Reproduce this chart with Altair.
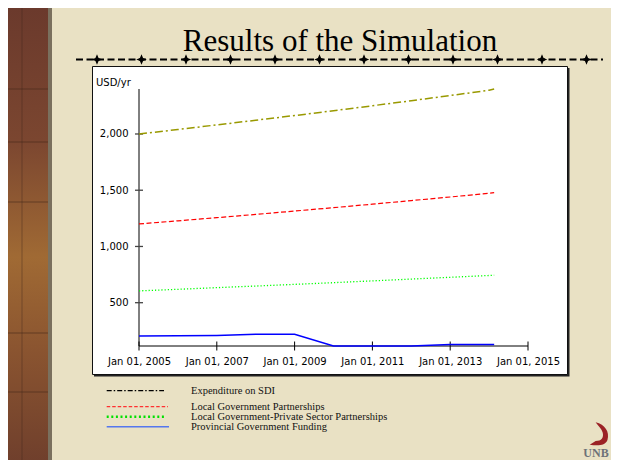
import altair as alt
import pandas as pd

# ---------------- data ----------------
years = [2005, 2006, 2007, 2008, 2009, 2010, 2011, 2012, 2013, 2014, 2014.13]
sdi_expenditure = [2000, 2040, 2081, 2122, 2164, 2207, 2251, 2296, 2342, 2389, 2400]
local_gov_partnerships = [1200, 1228, 1256, 1285, 1315, 1345, 1376, 1408, 1440, 1473, 1478]
local_gov_private_partnerships = [605, 619, 634, 648, 663, 678, 694, 710, 726, 742, 744]
provincial_funding = [204, 206, 209, 219, 219, 115, 115, 115, 128, 128, 128]

series_names = [
    "Expenditure on SDI",
    "Local Government Partnerships",
    "Local Government-Private Sector Partnerships",
    "Provincial Government Funding",
]
x_tick_years = [2005, 2007, 2009, 2011, 2013, 2015]
y_tick_values = [500, 1000, 1500, 2000]
title_text = "Results of the Simulation"
unit_label = "USD/yr"
logo_text = "UNB"

rows = []
for name, vals in zip(series_names, [sdi_expenditure, local_gov_partnerships,
                                     local_gov_private_partnerships, provincial_funding]):
    for yr, v in zip(years, vals):
        rows.append({"year": yr, "value": v, "series": name})
df = pd.DataFrame(rows)

# ---------------- layout helpers ----------------
W, H = 389, 257
OX, OY = 139, 89          # plot origin in page pixels
PAD = {"left": OX - 8, "top": OY - 8, "right": 603 - (OX - 8) - W, "bottom": 452 - (OY - 8) - H}


def px(X):
    return X - OX


def py(Y):
    return Y - OY


one = pd.DataFrame({"k": [0]})

X_SCALE = alt.Scale(domain=[2005, 2015], nice=False, zero=False)
Y_SCALE = alt.Scale(domain=[115, 2400], nice=False, zero=False)
AX_COMMON = dict(domain=False, ticks=False, grid=False, labelFont="DejaVu Sans",
                 labelFontSize=10, labelColor="black", title=None, zindex=1,
                 labelOverlap=False)
X_AXIS = alt.Axis(values=x_tick_years, labelExpr="'Jan 01, ' + datum.value",
                  labelPadding=10, labelFlush=False, **AX_COMMON)
Y_AXIS = alt.Axis(values=y_tick_values, format=",d", labelPadding=11, **AX_COMMON)

layers = []

# slide decoration: left textured strip
layers.append(alt.Chart(one).mark_rect(color=alt.Gradient(
    gradient="linear", x1=0, x2=0, y1=0, y2=1,
    stops=[alt.GradientStop(color="#6A392C", offset=0),
           alt.GradientStop(color="#7B4630", offset=0.3),
           alt.GradientStop(color="#A06A34", offset=0.55),
           alt.GradientStop(color="#8A5430", offset=0.75),
           alt.GradientStop(color="#6E3E2C", offset=1)])).encode(
    x=alt.value(px(0)), x2=alt.value(px(48)), y=alt.value(py(0)), y2=alt.value(py(468))))
for ly in [89, 142, 202, 333, 392]:
    layers.append(alt.Chart(one).mark_rule(color="#3E2418", opacity=0.55, strokeWidth=1).encode(
        x=alt.value(px(0)), x2=alt.value(px(48)), y=alt.value(py(ly))))
layers.append(alt.Chart(one).mark_rule(color="#3E2418", opacity=0.4, strokeWidth=1).encode(
    x=alt.value(px(22)), y=alt.value(py(0)), y2=alt.value(py(468))))
layers.append(alt.Chart(one).mark_rect(color="#7A705E").encode(
    x=alt.value(px(48)), x2=alt.value(px(52)), y=alt.value(py(0)), y2=alt.value(py(468))))

# title
layers.append(alt.Chart(one).mark_text(font="Liberation Serif", fontSize=31, color="black",
                                       align="center", baseline="alphabetic").encode(
    x=alt.value(px(340)), y=alt.value(py(51)), text=alt.value(title_text)))

# dashed rule with star crosses
layers.append(alt.Chart(one).mark_rule(color="black", strokeWidth=2.2, strokeDash=[7, 3.5]).encode(
    x=alt.value(px(76)), x2=alt.value(px(603)), y=alt.value(py(59.5))))
STAR = "M0,-1L0.3,-0.3L1,0L0.3,0.3L0,1L-0.3,0.3L-1,0L-0.3,-0.3Z"
for cx in [97, 141.5, 186, 230.5, 275, 319.5, 364, 408.5, 453, 497.5, 542, 586.5]:
    layers.append(alt.Chart(one).mark_point(shape=STAR, size=110, filled=True, color="black",
                                            opacity=1).encode(
        x=alt.value(px(cx)), y=alt.value(py(59.5))))

# white chart frame with shadow
layers.append(alt.Chart(one).mark_rect(color="#222222").encode(
    x=alt.value(px(94)), x2=alt.value(px(569.5)), y=alt.value(py(68)), y2=alt.value(py(376.5))))
layers.append(alt.Chart(one).mark_rect(fill="white", stroke="#111111", strokeWidth=1).encode(
    x=alt.value(px(92.5)), x2=alt.value(px(567.5)), y=alt.value(py(66.5)), y2=alt.value(py(374.5))))

# unit label
layers.append(alt.Chart(one).mark_text(font="DejaVu Sans", fontSize=10, color="black",
                                       align="left", baseline="alphabetic").encode(
    x=alt.value(px(96)), y=alt.value(py(86)), text=alt.value(unit_label)))

# axis lines and crossing ticks
layers.append(alt.Chart(one).mark_rule(color="black", strokeWidth=1).encode(
    x=alt.value(0), y=alt.value(0), y2=alt.value(H)))
layers.append(alt.Chart(one).mark_rule(color="black", strokeWidth=1).encode(
    x=alt.value(0), x2=alt.value(W), y=alt.value(H)))
layers.append(alt.Chart(pd.DataFrame({"v": y_tick_values})).mark_rule(color="#444444", strokeWidth=1.3).encode(
    y=alt.Y("v:Q", scale=Y_SCALE, axis=Y_AXIS), x=alt.value(-4), x2=alt.value(4)))
layers.append(alt.Chart(pd.DataFrame({"t": x_tick_years})).mark_rule(color="black", strokeWidth=1).encode(
    x=alt.X("t:Q", scale=X_SCALE, axis=X_AXIS), y=alt.value(H - 4.5), y2=alt.value(H + 4.5)))

# data series
styles = [
    dict(color="#999900", strokeDash=[8, 3, 2, 3], strokeWidth=1.5),
    dict(color="#FF0000", strokeDash=[5, 2.5], strokeWidth=1.2),
    dict(color="#00FF00", strokeDash=[1.2, 2], strokeWidth=1.3),
    dict(color="#0000FF", strokeWidth=1.5),
]
for name, st in zip(series_names, styles):
    layers.append(alt.Chart(df).transform_filter(alt.datum.series == name).mark_line(**st).encode(
        x=alt.X("year:Q", scale=X_SCALE, axis=X_AXIS),
        y=alt.Y("value:Q", scale=Y_SCALE, axis=Y_AXIS)))

# legend (drawn on the slide below the chart)
legend_styles = [
    (390.7, 391, dict(color="black", strokeDash=[5, 2, 1.5, 2], strokeWidth=1.3), 164),
    (406.7, 406.5, dict(color="#FF3030", strokeDash=[3.5, 2], strokeWidth=1.3), 168),
    (416.7, 417.3, dict(color="#00E000", strokeDash=[2, 2.6], strokeWidth=2.4), 166),
    (426.7, 427.3, dict(color="#5577EE", strokeWidth=1.6), 169),
]
for name, (ly, ty, st, x_end) in zip(series_names, legend_styles):
    layers.append(alt.Chart(one).mark_rule(**st).encode(
        x=alt.value(px(106.7)), x2=alt.value(px(x_end)), y=alt.value(py(ly))))
    layers.append(alt.Chart(one).mark_text(font="Liberation Serif", fontSize=10.5, color="#111111",
                                           align="left", baseline="middle").encode(
        x=alt.value(px(191)), y=alt.value(py(ty)), text=alt.value(name)))

# UNB logo (kept inside the visible page area)
FLAME = ("M-0.2,-1C0.6,-0.8 1,-0.2 0.8,0.5C0.6,1 0,1 -0.7,0.9L-0.2,0.6"
         "C0.3,0.6 0.5,0.3 0.4,-0.1C0.3,-0.5 0,-0.7 -0.2,-1Z")
layers.append(alt.Chart(one).mark_point(shape=FLAME, size=560, filled=True, color="#9B2226",
                                        opacity=1).encode(
    x=alt.value(px(598)), y=alt.value(py(434))))
layers.append(alt.Chart(one).mark_text(font="Liberation Serif", fontSize=12, fontWeight="bold",
                                       color="#6E7278", align="center", baseline="alphabetic").encode(
    x=alt.value(px(596)), y=alt.value(py(457)), text=alt.value(logo_text)))

chart = alt.layer(*layers).properties(
    width=W, height=H, padding=PAD,
    autosize=alt.AutoSizeParams(type="none"),
    background="#E9E1C4",
).configure_view(stroke=None)

chart.save("out.html", embed_options={"renderer": "svg", "actions": False})
